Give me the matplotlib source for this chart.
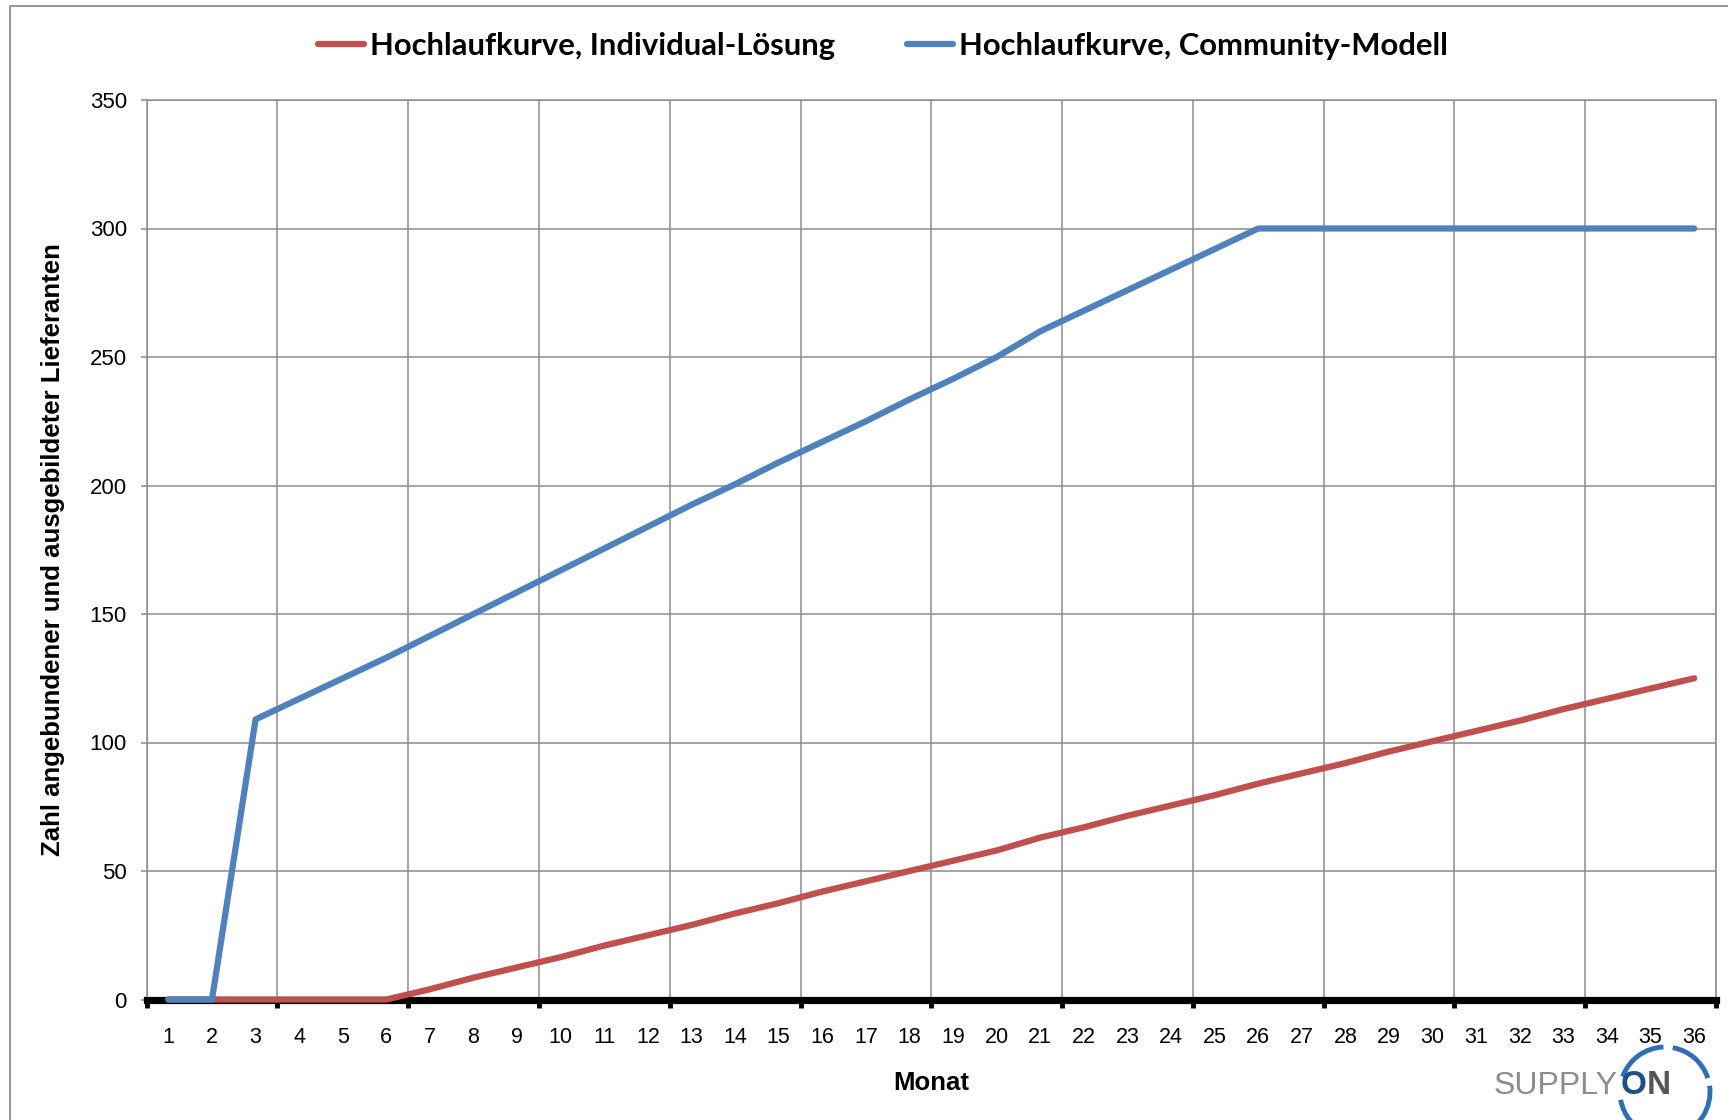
import numpy as np
import matplotlib.pyplot as plt
from matplotlib.patches import Arc, Rectangle

# Monate 1..36
months = list(range(1, 37))
month_labels = [str(m) for m in months]

# Hochlaufkurven
individual = [0, 0, 0, 0, 0, 0, 4, 8.5, 12.5, 16.5, 21, 25, 29, 33.5, 37.5, 42, 46, 50,
              54, 58, 63, 67, 71.5, 75.5, 79.5, 84, 88, 92, 96.5, 100.5, 104.5, 108.5,
              113, 117, 121, 125]
community = [0, 0, 109, 117, 125, 133, 141.5, 150, 158.5, 167, 175.5, 184, 192.5, 200.5, 209,
             217, 225, 233.5, 241.5, 250, 260, 268, 276, 284, 292, 300, 300, 300, 300, 300,
             300, 300, 300, 300, 300, 300]

series_names = ["Hochlaufkurve, Individual-Lösung", "Hochlaufkurve, Community-Modell"]
red = "#C0504D"
blue = "#4F81BD"
grid_col = "#8C8C8C"

W, H = 1728, 1120
fig = plt.figure(figsize=(W / 100, H / 100), dpi=100)

# overlay for frame + logo
ov = fig.add_axes([0, 0, 1, 1])
ov.set_xlim(0, W)
ov.set_ylim(0, H)
ov.axis("off")
ov.add_patch(Rectangle((10, -20), 1800, H - 6 + 20, fill=False, ec="#8C8C8C", lw=1.3))

ax = fig.add_axes([146.6 / W, 1 - 999.5 / H, (1716 - 146.6) / W, 899.5 / H])

l1, = ax.plot(months, individual, color=red, lw=4.5, solid_capstyle="round",
              solid_joinstyle="round", clip_on=False, zorder=3, label=series_names[0])
l2, = ax.plot(months, community, color=blue, lw=4.5, solid_capstyle="round",
              solid_joinstyle="round", clip_on=False, zorder=4, label=series_names[1])

ax.set_xlim(0.5, 36.5)
ax.set_ylim(0, 350)
ax.set_xticks(months)
ax.set_xticklabels(month_labels, family="Liberation Sans")
ax.set_xticks(np.arange(0.5, 37, 3), minor=True)
ax.set_yticks(range(0, 351, 50))
for t in ax.get_yticklabels():
    t.set_family("Liberation Sans")

ax.tick_params(axis="x", which="major", length=0, pad=20, labelsize=15.5)
ax.tick_params(axis="x", which="minor", length=5.8, width=3.5, color="black")
ax.tick_params(axis="y", length=4.3, width=1.1, color=grid_col, pad=10, labelsize=16)

ax.grid(axis="x", which="minor", color=grid_col, lw=1.1)
ax.grid(axis="y", which="major", color=grid_col, lw=1.1)

ax.spines["bottom"].set_color("black")
ax.spines["bottom"].set_linewidth(5.2)
for s in ["left", "top", "right"]:
    ax.spines[s].set_color(grid_col)
    ax.spines[s].set_linewidth(1.1)

ax.set_ylabel("Zahl angebundener und ausgebildeter Lieferanten", fontsize=18.5,
              fontweight="bold", family="Liberation Sans")
ax.yaxis.set_label_coords(-0.052, 0.5)
ax.set_xlabel("Monat", fontsize=18.5, fontweight="bold", family="Liberation Sans")
ax.xaxis.set_label_coords(0.5, -0.080)

fig.legend(handles=[l1, l2], loc="center", bbox_to_anchor=(883 / W, 1 - 46 / H), ncol=2,
           frameon=False, prop=dict(family="Lato", weight="bold", size=22.3),
           handlelength=1.5, handletextpad=0.2, columnspacing=2.3)

# SUPPLYON logo
ov.text(1494, H - 1086, "SUPPLY", color="#8C8C8C", fontsize=23, family="Liberation Sans",
        va="center", ha="left")
ov.text(1621, H - 1086, "O", color="#1F4F86", fontsize=24, family="Liberation Sans",
        fontweight="bold", va="center", ha="left")
ov.text(1647, H - 1086, "N", color="#555555", fontsize=24, family="Liberation Sans",
        fontweight="bold", va="center", ha="left")
for a, b in [(92, 160), (18, 80), (-75, 8), (190, 250)]:
    ov.add_patch(Arc((1665, H - 1092), 90, 90, theta1=a, theta2=b, color="#2F6DB5", lw=3.5))

fig.savefig("out.png", dpi=100)
